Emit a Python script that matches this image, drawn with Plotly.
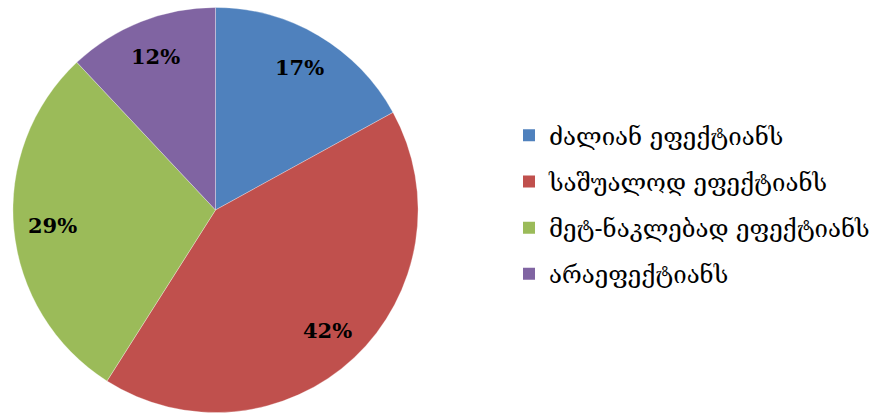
import math
import plotly.graph_objects as go

# Survey answers: how effective respondents found it
categories = ["ძალიან ეფექტიანს", "საშუალოდ ეფექტიანს", "მეტ-ნაკლებად ეფექტიანს", "არაეფექტიანს"]
shares = [17, 42, 29, 12]
colors = ["#4F81BD", "#C0504D", "#9BBB59", "#8064A2"]

PIE_X = [0.0149, 0.4811]
PIE_Y = [0.0048, 0.9856]

fig = go.Figure()
fig.add_trace(go.Pie(
    labels=categories,
    values=shares,
    sort=False,
    direction="clockwise",
    rotation=0,
    marker=dict(colors=colors, line=dict(color="rgba(255,255,255,0.6)", width=0.5)),
    textinfo="none",
    showlegend=False,
    hoverinfo="label+percent",
    domain=dict(x=PIE_X, y=PIE_Y),
))

# Percentage labels placed along each slice's bisector
W, H = 875, 416
cx = (PIE_X[0] + PIE_X[1]) / 2
cy = (PIE_Y[0] + PIE_Y[1]) / 2
radius_px = min((PIE_X[1] - PIE_X[0]) * W, (PIE_Y[1] - PIE_Y[0]) * H) / 2
total = sum(shares)
start = 0.0
for v in shares:
    mid = (start + v / 2) / total * 2 * math.pi
    start += v
    r = 0.81 * radius_px
    fig.add_annotation(
        x=cx + r * math.sin(mid) / W,
        y=cy + r * math.cos(mid) / H,
        xref="paper", yref="paper",
        xanchor="center", yanchor="middle",
        text=f"<b>{round(v / total * 100)}%</b>",
        showarrow=False,
        font=dict(family="DejaVu Serif", size=21, color="#000000"),
    )

# Legend entries drawn as square markers
for name, c in zip(categories, colors):
    fig.add_trace(go.Scatter(
        x=[None], y=[None], mode="markers", name=name,
        legendgroup=name,
        marker=dict(symbol="square", size=12, color=c),
    ))

fig.update_layout(
    width=W, height=H,
    margin=dict(l=0, r=0, t=0, b=0),
    paper_bgcolor="white",
    plot_bgcolor="white",
    xaxis=dict(visible=False),
    yaxis=dict(visible=False),
    legend=dict(
        x=0.586, y=0.508, xanchor="left", yanchor="middle",
        font=dict(family="DejaVu Serif", size=24, color="#000000"),
        tracegroupgap=12,
        itemwidth=30,
        bgcolor="rgba(0,0,0,0)",
    ),
)

fig.write_html("out.html")
